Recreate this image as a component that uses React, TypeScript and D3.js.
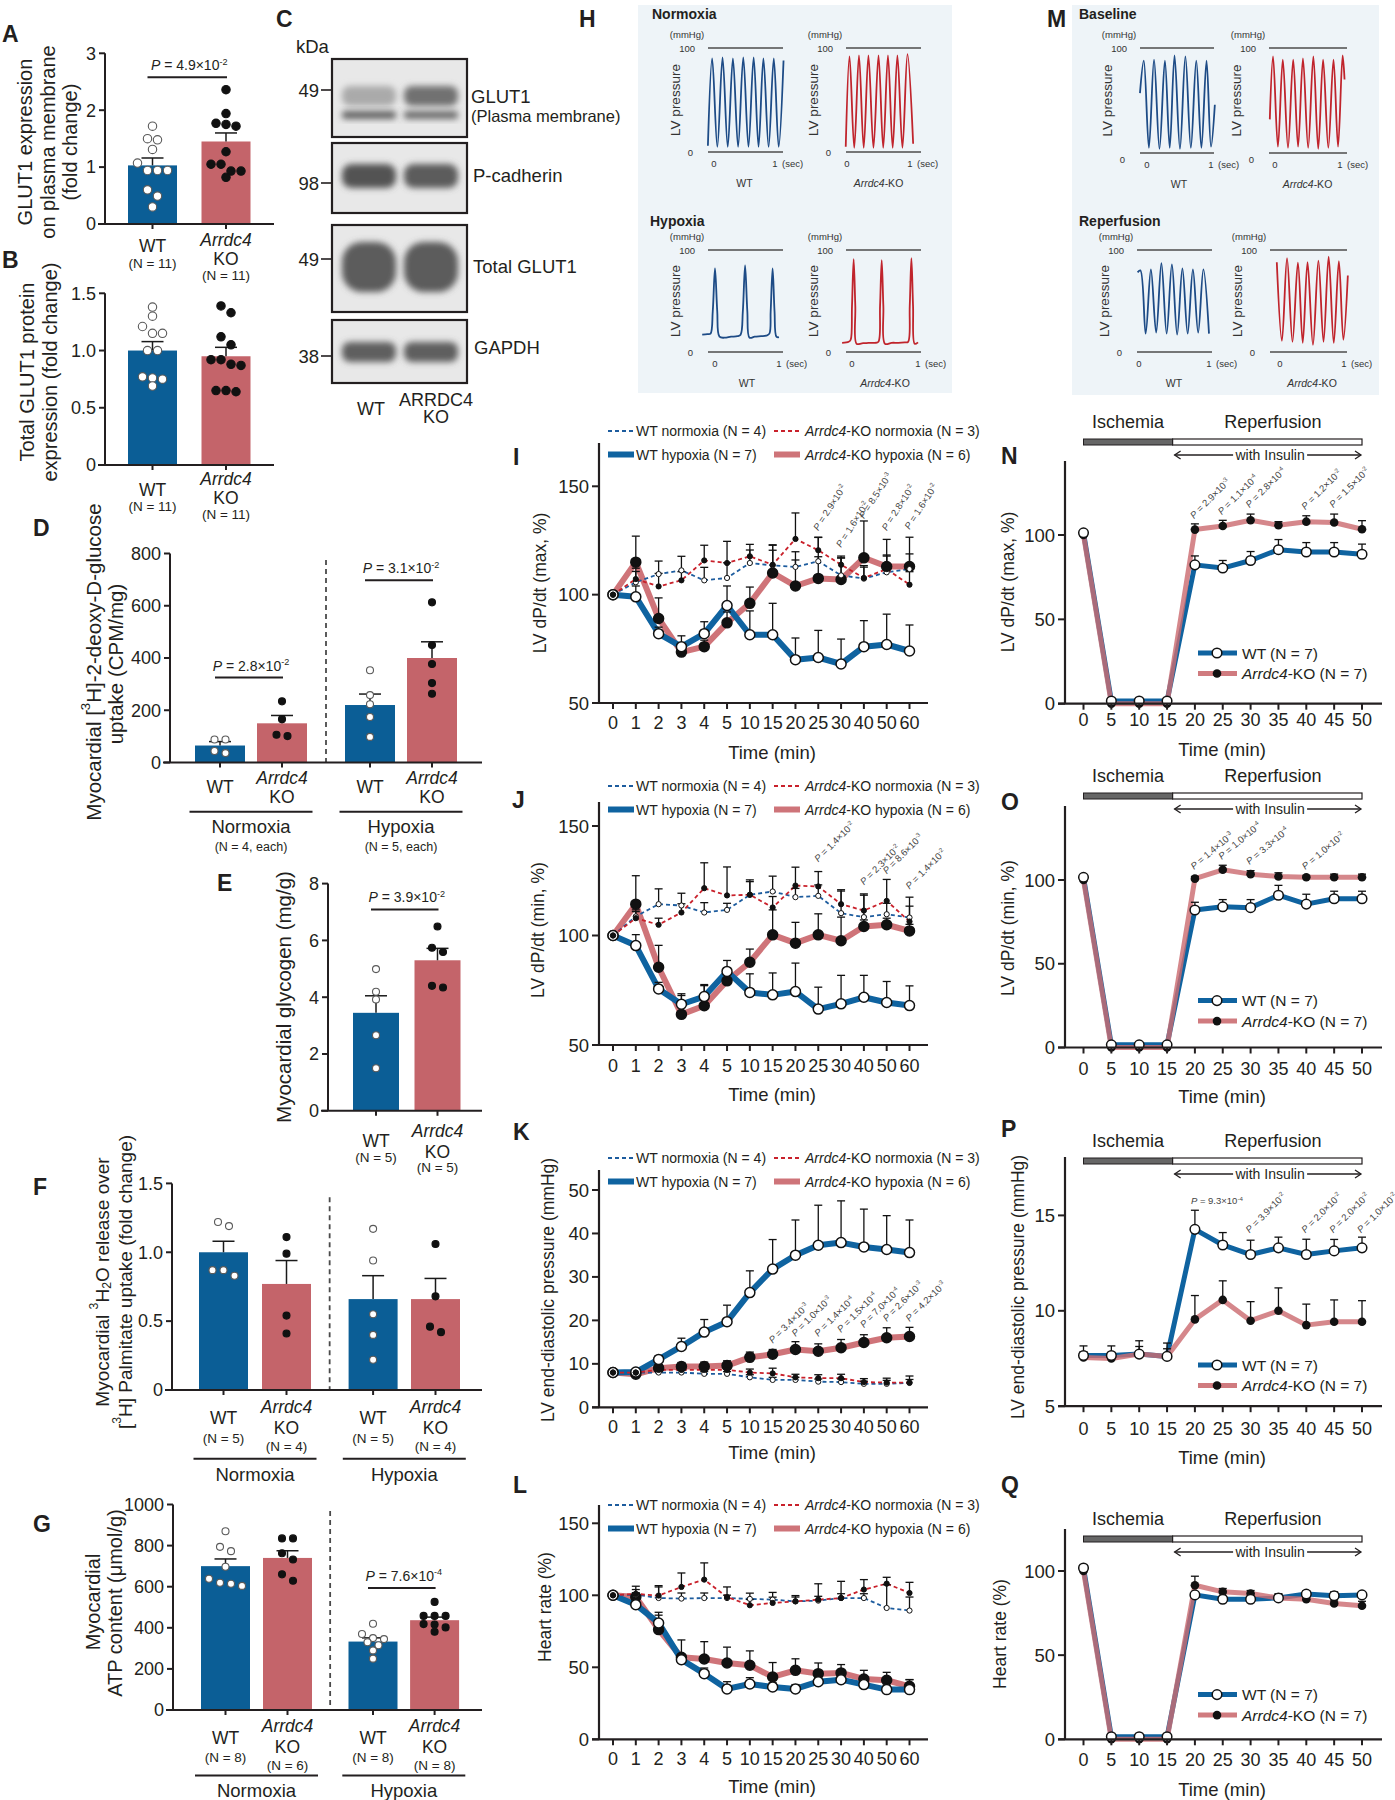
import React from 'react';
import * as d3 from 'd3';

const FONT = "'Liberation Sans', Arial, Helvetica, sans-serif";
const INK = '#231f20';
const BAR_BLUE = '#0b5e96';
const BAR_RED = '#c4646a';
const LINE_BLUE = '#0f63a0';
const LINE_RED = '#cc6d72';
const DASH_BLUE = '#1d5c9e';
const DASH_RED = '#c9212b';
const TRACE_BLUE = '#1d4b86';
const TRACE_RED = '#c0242c';
const PANEL_BG = '#eef4f8';

// ---------------- DATA ----------------
// A / B
const abGroups = ['WT', 'Arrdc4 KO'];
const aMean = [1.03, 1.45];
const aSem = [0.13, 0.15];
const aDotsWT = [1.72, 1.5, 1.48, 1.31, 1.07, 0.94, 0.94, 0.94, 0.6, 0.49, 0.3];
const aDotsKO = [2.36, 1.94, 1.77, 1.75, 1.72, 1.27, 1.05, 1.05, 0.93, 0.93, 0.82];
const bMean = [1.0, 0.95];
const bSem = [0.078, 0.078];
const bDotsWT = [1.38, 1.3, 1.21, 1.15, 1.15, 1.0, 1.0, 0.76, 0.69, 0.75, 0.77];
const bDotsKO = [1.39, 1.33, 1.12, 1.05, 0.92, 0.87, 0.92, 0.88, 0.65, 0.64, 0.65];
// D
const dMean = [65, 150, 220, 400];
const dSem = [15, 30, 42, 62];
const dDots = [[88, 88, 36, 44], [234, 166, 101, 106], [353, 258, 223, 174, 98], [613, 450, 377, 304, 263]];
// E
const eMean = [3.45, 5.3];
const eSem = [0.6, 0.42];
const eDots = [[4.99, 3.92, 4.19, 2.66, 1.5], [6.49, 5.74, 5.59, 4.34, 4.4]];
// F
const fMean = [1.0, 0.77, 0.66, 0.66];
const fSem = [0.08, 0.17, 0.17, 0.15];
const fDots = [[1.22, 1.19, 0.87, 0.83, 0.87], [1.11, 0.99, 0.54, 0.41], [1.17, 0.94, 0.55, 0.4, 0.22], [1.06, 0.68, 0.42, 0.46]];
// G
const gMean = [700, 740, 333, 437];
const gSem = [35, 35, 18, 15];
const gDots = [
  [870, 773, 794, 697, 619, 604, 614, 639],
  [835, 835, 763, 732, 629, 660],
  [420, 370, 350, 345, 330, 315, 290, 250],
  [526, 458, 458, 458, 416, 381, 402, 418],
];

// C (western blot band intensities, WT / KO)
const blotLanes = ['WT', 'ARRDC4 KO'];
const glut1Upper = [0.3, 0.6];
const glut1Lower = [0.68, 0.64];
const pcadBand = [0.76, 0.72];
const totalGlutBand = [0.72, 0.72];
const gapdhBand = [0.7, 0.7];

// H / M pressure traces [time (sec), pressure (mmHg)]
const hNormWT = [[-0.1, 6], [-0.03, 90], [0.055, 5], [0.14, 91], [0.225, 5], [0.31, 90], [0.395, 5], [0.48, 91], [0.565, 5], [0.65, 91], [0.73, 5], [0.81, 90], [0.895, 5], [0.98, 90], [1.06, 5], [1.14, 88]];
const hNormKO = [[-0.02, 5], [0.04, 92], [0.115, 4], [0.19, 93], [0.265, 4], [0.34, 93], [0.42, 4], [0.5, 93], [0.575, 4], [0.65, 93], [0.725, 4], [0.8, 93], [0.88, 4], [0.96, 94], [1.05, 8]];
const hHypoWT = [[-0.2, 17], [-0.12, 17.5], [-0.07, 18], [-0.035, 40], [0, 82], [0.035, 40], [0.07, 15], [0.15, 14], [0.25, 15], [0.35, 15.5], [0.4, 17], [0.435, 40], [0.47, 85], [0.505, 40], [0.54, 14], [0.62, 15], [0.72, 15.5], [0.8, 16], [0.85, 18], [0.87, 40], [0.9, 82], [0.93, 40], [0.96, 15], [1.0, 14.5]];
const hHypoKO = [[-0.15, 9], [-0.05, 10], [-0.02, 12], [0.0, 45], [0.025, 91], [0.05, 45], [0.07, 8], [0.15, 8.5], [0.25, 9], [0.35, 9], [0.4, 10], [0.425, 45], [0.45, 90], [0.475, 45], [0.5, 8], [0.6, 9], [0.7, 9], [0.8, 9.5], [0.85, 10], [0.875, 45], [0.9, 92], [0.925, 45], [0.95, 8], [1.0, 9.5]];
const mBaseWT = [[-0.11, 57], [-0.05, 88], [0.03, 5], [0.11, 89], [0.195, 4], [0.28, 88], [0.355, 5], [0.43, 93], [0.515, 4], [0.6, 92], [0.685, 5], [0.77, 88], [0.85, 5], [0.93, 88], [1.0, 6], [1.06, 46]];
const mBaseKO = [[-0.08, 32], [-0.03, 92], [0.045, 6], [0.12, 89], [0.2, 5], [0.28, 89], [0.355, 6], [0.43, 90], [0.51, 5], [0.59, 92], [0.665, 4], [0.74, 89], [0.82, 5], [0.9, 89], [0.97, 6], [1.04, 93], [1.07, 70]];
const mRepWT = [[-0.02, 78], [0.02, 80], [0.095, 18], [0.17, 81], [0.245, 19], [0.32, 87], [0.395, 18], [0.47, 86], [0.545, 17], [0.62, 82], [0.695, 18], [0.77, 81], [0.845, 19], [0.92, 81], [1.0, 18]];
const mRepKO = [[-0.05, 88], [0.03, 11], [0.11, 92], [0.195, 10], [0.28, 87.5], [0.355, 9], [0.43, 88], [0.515, 7], [0.6, 89.5], [0.68, 10], [0.76, 93.4], [0.84, 9], [0.92, 89], [0.99, 12], [1.06, 75]];

// I - L (hypoxia time course)
const TIMES_I = ['0', '1', '2', '3', '4', '5', '10', '15', '20', '25', '30', '40', '50', '60'];
const iWTn = [100, 105.7, 109.5, 111.2, 106.6, 107.7, 114.6, 113.5, 112.8, 115.4, 108.9, 107.4, 110.3, 111.8];
const iKOn = [100, 107.2, 103.8, 106.6, 115.8, 114.6, 117.7, 113.8, 125.7, 120.5, 113.8, 107.7, 111.8, 104.6];
const iWTh = [100, 99, 82, 76, 82, 95, 81.5, 81.5, 70, 71, 68, 76, 77, 74];
const iKOh = [100, 115, 89, 73.5, 76, 87, 96, 110, 104, 107.5, 107, 117, 113, 113];
const iWTnE = [0, 5, 6, 6.5, 6, 7, 6, 7, 7, 11, 8, 6, 8, 7];
const iKOnE = [0, 5, 6, 4, 7, 10, 5.5, 9, 12, 6, 4, 5, 6, 6];
const iWThE = [0, 5, 3, 5, 5.5, 9, 11, 14.5, 10, 12.5, 11.5, 12, 14, 12];
const iKOhE = [0, 12, 9.5, 3, 3, 5, 7.5, 13, 12, 10, 10, 17, 12.5, 13.5];

const jWTn = [100, 108.7, 114.3, 113.7, 110.5, 111.7, 118.6, 120.1, 117.5, 118.1, 110.2, 108.4, 109.7, 108.2];
const jKOn = [100, 107.9, 104.9, 110.5, 121.6, 118.3, 118.6, 112.8, 122.8, 122.4, 114.3, 111.4, 115.8, 106.4];
const jWTh = [100, 95.4, 75.6, 68.6, 72.1, 83.6, 74, 72.9, 74.4, 66.4, 68.8, 71.8, 69.4, 68];
const jKOh = [100, 114.3, 85.5, 64, 67.9, 79.3, 87.8, 100.3, 96.5, 100.3, 97.6, 104.1, 104.9, 102.1];
const jWTnE = [0, 3, 7, 5.6, 4.5, 3, 6.8, 7, 4, 5, 10.7, 10.6, 5, 9.3];
const jKOnE = [0, 3, 3, 4, 11.6, 13, 6, 5, 8.4, 6.8, 6, 7, 9.8, 7];
const jWThE = [0, 5, 3, 4, 5, 5, 8.5, 10, 13, 10, 13, 10, 9.6, 9];
const jKOhE = [0, 13, 10, 9.4, 9.7, 5.7, 6, 11.4, 9.5, 9.6, 10.8, 3, 3, 3];

const kWTn = [8.0, 8.0, 8.0, 8.0, 7.7, 7.7, 6.9, 6.3, 6.3, 5.9, 5.8, 5.4, 5.4, 5.6];
const kKOn = [8.0, 8.0, 8.6, 8.6, 8.6, 8.6, 8.0, 7.8, 6.9, 6.7, 6.7, 5.8, 5.7, 5.7];
const kWTh = [8.0, 8.1, 11.0, 14.0, 17.3, 19.7, 26.4, 31.8, 35.0, 37.3, 37.9, 36.9, 36.3, 35.6];
const kKOh = [8.0, 7.6, 9.0, 9.4, 9.4, 9.6, 11.5, 12.2, 13.3, 12.9, 13.7, 14.9, 16.0, 16.3];
const kWTnE = [0.3, 0.3, 0.4, 0.5, 0.5, 0.5, 0.6, 0.6, 0.6, 0.6, 0.7, 0.6, 0.8, 0.8];
const kKOnE = [0.3, 0.4, 0.8, 0.9, 1.0, 1.1, 0.8, 1.2, 0.7, 0.8, 0.9, 0.8, 1.0, 1.5];
const kWThE = [0.3, 0.4, 0.9, 1.9, 2.9, 3.8, 5.0, 6.8, 8.1, 9.2, 9.6, 8.7, 7.8, 7.5];
const kKOhE = [0.3, 0.4, 0.8, 0.9, 1.0, 1.1, 1.2, 1.1, 1.8, 1.7, 1.9, 1.8, 2.3, 2.1];

const lWTn = [100, 100.5, 98.1, 97.7, 98.1, 98.1, 97.5, 97, 95.8, 96.3, 98.1, 98.1, 91.2, 89.4];
const lKOn = [100, 101, 99.8, 105.8, 110.9, 98.8, 93.1, 94.7, 95.8, 97, 98.1, 104, 108.1, 101.6];
const lWTh = [100, 93.5, 80.8, 55.3, 45.6, 35, 38.4, 36.3, 35, 40, 41.4, 38, 34.5, 34.5];
const lKOh = [100, 98.8, 76.2, 57, 55.8, 53, 51.4, 43.3, 47.9, 45.6, 46.1, 41.9, 41, 36.8];
const lWTnE = [0, 5.8, 8.6, 3.9, 3.5, 2, 4, 5, 4, 3, 3, 3, 16.2, 9.4];
const lKOnE = [0, 3, 6, 9.7, 11.6, 7, 4, 4, 3, 11, 11.6, 6.9, 4.4, 7.4];
const lWThE = [0, 2, 7.4, 3, 3.9, 5, 4.4, 3, 3, 3, 3, 3, 3, 7];
const lKOhE = [0, 3, 10, 12, 12, 11, 10, 10, 8, 7.4, 5.8, 6, 5.5, 4.6];

// N - Q (ischemia / reperfusion)
const TIMES_N = [0, 5, 10, 15, 20, 25, 30, 35, 40, 45, 50];
const nWT = [101.3, 1.6, 1.6, 1.6, 82.3, 80.4, 84.9, 91.3, 89.9, 89.9, 88.6];
const nKO = [100, 0, 0, 0, 103.2, 105.3, 108.7, 105.8, 107.9, 107.4, 103.4];
const nWTE = [0, 0, 0, 0, 5.3, 4.5, 5.3, 6, 5.6, 5.6, 6];
const nKOE = [0, 0, 0, 0, 3.4, 3.4, 3.7, 2.1, 3.5, 5, 5.1];
const oWT = [101.6, 1.6, 1.6, 1.6, 82.1, 84, 83.5, 90.9, 85.6, 88.8, 88.8];
const oKO = [100, 0, 0, 0, 100.8, 106.1, 103.5, 102.1, 101.6, 101.6, 101.6];
const oWTE = [0, 0, 0, 0, 4.6, 4.3, 4.8, 5.9, 5.9, 4.5, 4.5];
const oKOE = [0, 0, 0, 0, 1.3, 2.7, 2.1, 2.2, 0.8, 1.9, 1.9];
const pWT = [7.66, 7.66, 7.73, 7.61, 14.27, 13.45, 12.95, 13.3, 12.95, 13.14, 13.3];
const pKO = [7.55, 7.5, 7.73, 7.61, 9.55, 10.57, 9.48, 10.0, 9.25, 9.43, 9.43];
const pWTE = [0.5, 0.5, 0.7, 0.7, 1.0, 0.65, 0.75, 0.56, 0.8, 0.6, 0.56];
const pKOE = [0.3, 0.3, 0.4, 0.4, 1.25, 1.0, 1.0, 1.2, 1.1, 1.14, 1.1];
const qWT = [101.8, 1.5, 1.5, 1.5, 85.8, 83.2, 83.2, 84, 86.3, 85.3, 85.8];
const qKO = [100, 0, 0, 0, 91.5, 87.6, 86.6, 84, 83.2, 80.7, 79.4];
const qWTE = [0, 0, 0, 0, 1.5, 1.5, 1.5, 2.5, 2, 2.3, 1.5];
const qKOE = [0, 0, 0, 0, 5.4, 2, 1.8, 2, 1.5, 1.5, 2.6];

// P-value annotations
const iAnn = [['25', 129.3, '2.9', '2'], ['30', 121.5, '1.6', '2'], ['40', 134.8, '8.5', '3'], ['50', 129.3, '2.8', '2'], ['60', 129.8, '1.6', '2']];
const jAnn = [['25', 133.3, '1.4', '2'], ['40', 122.8, '2.3', '2'], ['50', 127.8, '8.6', '3'], ['60', 120.9, '1.4', '2']];
const kAnn = [['15', 14.6, '3.4', '3'], ['20', 16.2, '1.0', '3'], ['25', 16.2, '1.4', '4'], ['30', 17.1, '1.5', '4'], ['40', 18.2, '7.0', '4'], ['50', 19.6, '2.6', '3'], ['60', 19.6, '4.2', '3']];
const nAnn = [[20, 109.4, '2.9', '3'], [25, 111.7, '1.1', '4'], [30, 115.9, '2.8', '4'], [40, 114.7, '1.2', '2'], [45, 115.9, '1.5', '2']];
const oAnn = [[20, 106, '1.4', '3'], [25, 112, '1.0', '4'], [30, 109, '3.3', '4'], [40, 106, '1.0', '2']];
const pAnn = [[30, 14.05, '3.9', '2'], [40, 14.05, '2.0', '2'], [45, 14.05, '2.0', '2'], [50, 14.05, '1.0', '2']];

// ---------------- HELPERS ----------------
type Part = string | { t: string; sup?: boolean; sub?: boolean; it?: boolean };

function Rich({ parts, fs }: { parts: Part[]; fs: number }) {
  let shift = 0;
  return (
    <>
      {parts.map((p, i) => {
        const o: any = typeof p === 'string' ? { t: p } : p;
        const target = o.sup ? -0.4 * fs : o.sub ? 0.25 * fs : 0;
        const dy = target - shift;
        shift = target;
        return (
          <tspan key={i} dy={dy !== 0 ? dy : undefined} fontSize={o.sup || o.sub ? fs * 0.65 : undefined} fontStyle={o.it ? 'italic' : undefined}>
            {o.t}
          </tspan>
        );
      })}
    </>
  );
}
const pParts = (coef: string, exp: string): Part[] => [{ t: 'P', it: true }, ` = ${coef}×10`, { t: `-${exp}`, sup: true }];

function swarm(vals: number[], y: any, r: number, cx: number, gap: number) {
  const pts = vals.map((v) => ({ v, py: y(v) })).sort((a, b) => a.py - b.py);
  const rows: any[][] = [];
  for (const p of pts) {
    const last = rows[rows.length - 1];
    if (last && p.py - last[0].py < r * 2.1) last.push(p);
    else rows.push([p]);
  }
  const out: { x: number; y: number }[] = [];
  rows.forEach((row) => row.forEach((p, j) => out.push({ x: cx + (j - (row.length - 1) / 2) * (2 * r + gap), y: p.py })));
  return out;
}

function Letter({ x, y, t }: any) {
  return (
    <text x={x} y={y} fontSize={23} fontWeight="bold" fill={INK}>
      {t}
    </text>
  );
}

function VText({ x, y, fs, children, anchor = 'middle' }: any) {
  return (
    <text transform={`translate(${x},${y}) rotate(-90)`} textAnchor={anchor} dominantBaseline="central" fontSize={fs} fill={INK}>
      {children}
    </text>
  );
}

function T({ x, y, fs = 17.5, children, anchor = 'middle', italic = false, fill = INK, weight }: any) {
  return (
    <text x={x} y={y} fontSize={fs} textAnchor={anchor} fontStyle={italic ? 'italic' : undefined} fill={fill} fontWeight={weight}>
      {children}
    </text>
  );
}

function BarPanel(props: any) {
  const { y, centers, barW, means, sems, dots, fills, open, dotR, dotGap, axisL, axisR, ticks, fmt, divider, pBars, tickFs = 18 } = props;
  const y0 = y(0);
  const yTopTick = y(ticks[ticks.length - 1]);
  return (
    <g>
      {divider && <line x1={divider.x} x2={divider.x} y1={y(divider.top)} y2={y0} stroke="#4a4a4a" strokeWidth={1.8} strokeDasharray="5,4" />}
      {means.map((m: number, i: number) => (
        <rect key={'b' + i} x={centers[i] - barW / 2} y={y(m)} width={barW} height={y0 - y(m)} fill={fills[i]} />
      ))}
      {means.map((m: number, i: number) => {
        const t = y(m + sems[i]);
        return (
          <g key={'e' + i} stroke="#1a1a1a" strokeWidth={1.5}>
            <line x1={centers[i]} x2={centers[i]} y1={y(m)} y2={t} />
            <line x1={centers[i] - 11} x2={centers[i] + 11} y1={t} y2={t} />
          </g>
        );
      })}
      {dots.map((vals: number[], i: number) =>
        swarm(vals, y, dotR, centers[i], dotGap).map((p, j) => (
          <circle key={`d${i}-${j}`} cx={p.x} cy={p.y} r={dotR} fill={open[i] ? '#fff' : '#111'} stroke={open[i] ? '#5a5a5a' : '#111'} strokeWidth={1.1} />
        ))
      )}
      <line x1={axisL} x2={axisL} y1={y0} y2={yTopTick} stroke={INK} strokeWidth={2} />
      <line x1={axisL - 7} x2={axisR} y1={y0} y2={y0} stroke={INK} strokeWidth={2} />
      {ticks.map((t: number) => (
        <g key={'t' + t}>
          <line x1={axisL - 6} x2={axisL} y1={y(t)} y2={y(t)} stroke={INK} strokeWidth={2} />
          <text x={axisL - 9} y={y(t)} dy="0.35em" textAnchor="end" fontSize={tickFs} fill={INK}>
            {fmt(t)}
          </text>
        </g>
      ))}
      {centers.map((c: number, i: number) => (
        <line key={'xt' + i} x1={c} x2={c} y1={y0} y2={y0 + 5} stroke={INK} strokeWidth={2} />
      ))}
      {pBars &&
        pBars.map((pb: any, k: number) => {
          const ly = y(pb.v);
          const xa = centers[pb.a] - 5;
          const xb = centers[pb.b] + 1;
          return (
            <g key={'p' + k}>
              <line x1={xa} x2={xb} y1={ly} y2={ly} stroke={INK} strokeWidth={2} />
              <text x={(xa + xb) / 2 + 2} y={ly - 7} fontSize={14} textAnchor="middle" fill={INK}>
                <Rich parts={pParts(pb.coef, pb.exp)} fs={14} />
              </text>
            </g>
          );
        })}
    </g>
  );
}

function Blot() {
  const lane = d3.scalePoint<string>().domain(blotLanes).range([369, 431]);
  const boxes = [
    [59, 137],
    [143, 213],
    [225, 312],
    [320, 383],
  ];
  const gray = d3.interpolateRgb('#e2e2e2', '#262626');
  const bands: any[] = [];
  blotLanes.forEach((ln, i) => {
    const cx = lane(ln)!;
    bands.push({ box: 0, cx, cy: 96, h: 20, I: glut1Upper[i] });
    bands.push({ box: 0, cx, cy: 115, h: 8, I: glut1Lower[i] });
    bands.push({ box: 1, cx, cy: 176, h: 24, I: pcadBand[i] });
    bands.push({ box: 2, cx, cy: 267, h: 50, I: totalGlutBand[i] });
    bands.push({ box: 3, cx, cy: 352, h: 20, I: gapdhBand[i] });
  });
  const markers = ['49', '98', '49', '38'];
  const markerY = [90, 183, 259, 356];
  return (
    <g>
      <defs>
        <filter id="blur" x="-30%" y="-60%" width="160%" height="220%">
          <feGaussianBlur stdDeviation="3.2" />
        </filter>
        {boxes.map((b, i) => (
          <clipPath id={'clip' + i} key={i}>
            <rect x={332} y={b[0]} width={135} height={b[1] - b[0]} />
          </clipPath>
        ))}
      </defs>
      {boxes.map((b, i) => (
        <g key={'box' + i}>
          <rect x={332} y={b[0]} width={135} height={b[1] - b[0]} fill="#e8e8e8" />
          <g clipPath={`url(#clip${i})`}>
            {bands
              .filter((bd) => bd.box === i)
              .map((bd, k) => (
                <rect key={k} x={bd.cx - 27} y={bd.cy - bd.h / 2} width={54} height={bd.h} rx={bd.h / 2.5} fill={gray(bd.I)} filter="url(#blur)" />
              ))}
          </g>
          <rect x={332} y={b[0]} width={135} height={b[1] - b[0]} fill="none" stroke={INK} strokeWidth={2.2} />
          <line x1={321} x2={332} y1={markerY[i]} y2={markerY[i]} stroke={INK} strokeWidth={1.6} />
          <T x={319} y={markerY[i] + 6.5} anchor="end" fs={18.5}>
            {markers[i]}
          </T>
        </g>
      ))}
      <T x={296} y={53} anchor="start" fs={18.5}>kDa</T>
      <T x={471} y={103} anchor="start" fs={18.5}>GLUT1</T>
      <T x={471} y={122} anchor="start" fs={16.5}>(Plasma membrane)</T>
      <T x={473} y={182} anchor="start" fs={18.5}>P-cadherin</T>
      <T x={473} y={273} anchor="start" fs={18.5}>Total GLUT1</T>
      <T x={474} y={354} anchor="start" fs={18.5}>GAPDH</T>
      <T x={lane('WT')! + 2} y={415} fs={18}>WT</T>
      <T x={lane('ARRDC4 KO')! + 5} y={406} fs={18}>ARRDC4</T>
      <T x={lane('ARRDC4 KO')! + 5} y={423} fs={18}>KO</T>
    </g>
  );
}

function MiniTrace({ lineL, lineR, yTop, yBot, t0x, t1x, pts, color, ko, zeroDy = 0 }: any) {
  const x = d3.scaleLinear().domain([0, 1]).range([t0x, t1x]);
  const y = d3.scaleLinear().domain([0, 100]).range([yBot, yTop]);
  const path = d3
    .line<number[]>()
    .x((d) => x(d[0]))
    .y((d) => y(d[1]))
    .curve(d3.curveCatmullRom.alpha(0.5))(pts);
  const tc = '#333';
  return (
    <g>
      <line x1={lineL} x2={lineR} y1={yTop} y2={yTop} stroke="#4d4d4d" strokeWidth={1.6} />
      <line x1={lineL} x2={lineR} y1={yBot} y2={yBot} stroke="#4d4d4d" strokeWidth={1.6} />
      <path d={path || ''} fill="none" stroke={color} strokeWidth={1.8} strokeLinejoin="round" />
      <T x={lineL - 21} y={yTop - 10} fs={9.5} fill={tc}>(mmHg)</T>
      <T x={lineL - 13} y={yTop + 3.5} fs={9.5} anchor="end" fill={tc}>100</T>
      <T x={lineL - 15} y={yBot + 3.5 + zeroDy} fs={9.5} anchor="end" fill={tc}>0</T>
      <T x={x(0)} y={yBot + 14.5} fs={9.5} fill={tc}>0</T>
      <T x={x(1)} y={yBot + 14.5} fs={9.5} fill={tc}>1</T>
      <T x={x(1) + 7} y={yBot + 14.5} fs={9.5} anchor="start" fill={tc}>(sec)</T>
      <text transform={`translate(${lineL - 33},${(yTop + yBot) / 2}) rotate(-90)`} textAnchor="middle" dominantBaseline="central" fontSize={13.5} fill={tc}>
        LV pressure
      </text>
      <text x={(x(0) + x(1)) / 2} y={yBot + 34.5} fontSize={10.5} textAnchor="middle" fill={tc}>
        {ko ? (
          <>
            <tspan fontStyle="italic">Arrdc4</tspan>-KO
          </>
        ) : (
          'WT'
        )}
      </text>
    </g>
  );
}

const LSTYLE: any = {
  WTn: { stroke: DASH_BLUE, w: 1.8, dash: '4,3', r: 2.6, open: true, op: 1 },
  KOn: { stroke: DASH_RED, w: 1.8, dash: '4,3', r: 2.6, open: false, op: 1 },
  WTh: { stroke: LINE_BLUE, w: 6, dash: undefined, r: 5, open: true, op: 1 },
  KOh: { stroke: LINE_RED, w: 6, dash: undefined, r: 5, open: false, op: 0.95 },
};

function LegendLine({ x, y, k }: any) {
  const s = LSTYLE[k];
  return <line x1={x} x2={x + 26} y1={y} y2={y} stroke={s.stroke} strokeWidth={s.w} strokeDasharray={s.dash} opacity={s.op} />;
}

function LinePanel(props: any) {
  const { y, ticks, axisTop, series, annots, annAngle, legendY, tickY, titleY, yLabel, yLabelX, yLabelY } = props;
  const x = d3.scalePoint<string>().domain(TIMES_I).range([613, 909.5]);
  const y0 = y(ticks[0]);
  const line = d3
    .line<number>()
    .x((_, i) => x(TIMES_I[i])!)
    .y((d) => y(d));
  const order = ['KOh', 'WTh', 'WTn', 'KOn'];
  return (
    <g>
      {order.map((k) => {
        const s = LSTYLE[k];
        return <path key={'l' + k} d={line(series[k].v) || ''} fill="none" stroke={s.stroke} strokeWidth={s.w} strokeDasharray={s.dash} opacity={s.op} strokeLinejoin="round" />;
      })}
      {order.map((k) =>
        series[k].v.map((v: number, i: number) => {
          const e = series[k].e[i];
          if (!e) return null;
          const cx = x(TIMES_I[i])!;
          const t = y(v + e);
          return (
            <g key={`e${k}${i}`} stroke="#111" strokeWidth={1.3}>
              <line x1={cx} x2={cx} y1={y(v)} y2={t} />
              <line x1={cx - 4} x2={cx + 4} y1={t} y2={t} />
            </g>
          );
        })
      )}
      {order.map((k) =>
        series[k].v.map((v: number, i: number) => {
          const s = LSTYLE[k];
          return <circle key={`m${k}${i}`} cx={x(TIMES_I[i])} cy={y(v)} r={s.r} fill={s.open ? '#fff' : '#111'} stroke="#111" strokeWidth={s.r > 3 ? 1.5 : 1} />;
        })
      )}
      <line x1={599} x2={599} y1={y0} y2={axisTop} stroke={INK} strokeWidth={2.2} />
      <line x1={592} x2={928} y1={y0} y2={y0} stroke={INK} strokeWidth={2.2} />
      {ticks.map((t: number) => (
        <g key={'yt' + t}>
          <line x1={592} x2={599} y1={y(t)} y2={y(t)} stroke={INK} strokeWidth={2} />
          <T x={589} y={y(t) + 6.5} anchor="end" fs={18.5}>{t}</T>
        </g>
      ))}
      {TIMES_I.map((t) => (
        <g key={'xt' + t}>
          <line x1={x(t)} x2={x(t)} y1={y0} y2={y0 + 6} stroke={INK} strokeWidth={2} />
          <T x={x(t)} y={tickY} fs={18}>{t}</T>
        </g>
      ))}
      <T x={772} y={titleY} fs={18.5}>Time (min)</T>
      <VText x={yLabelX} y={yLabelY} fs={17.5}>{yLabel}</VText>
      {annots.map((a: any, i: number) => (
        <text key={'an' + i} transform={`translate(${x(a[0])},${y(a[1])}) rotate(${annAngle})`} fontSize={9.5} fill="#444">
          <Rich parts={pParts(a[2], a[3])} fs={9.5} />
        </text>
      ))}
      <LegendLine x={608} y={legendY} k="WTn" />
      <T x={636} y={legendY + 5} anchor="start" fs={14}>WT normoxia (N = 4)</T>
      <LegendLine x={774} y={legendY} k="KOn" />
      <text x={805} y={legendY + 5} fontSize={14} fill={INK}>
        <tspan fontStyle="italic">Arrdc4</tspan>-KO normoxia (N = 3)
      </text>
      <LegendLine x={608} y={legendY + 23.5} k="WTh" />
      <T x={636} y={legendY + 28.5} anchor="start" fs={14}>WT hypoxia (N = 7)</T>
      <LegendLine x={774} y={legendY + 23.5} k="KOh" />
      <text x={805} y={legendY + 28.5} fontSize={14} fill={INK}>
        <tspan fontStyle="italic">Arrdc4</tspan>-KO hypoxia (N = 6)
      </text>
    </g>
  );
}

function TimePanel(props: any) {
  const { y, ticks, axisTop, wt, ko, wtE, koE, annots, annAngle, hAnnot, headY, legendY, tickY, titleY, yLabel, yLabelX, yLabelY } = props;
  const x = d3.scaleLinear().domain([0, 50]).range([1083.5, 1362]);
  const y0 = y(ticks[0]);
  const line = d3
    .line<number>()
    .x((_, i) => x(TIMES_N[i]))
    .y((d) => y(d));
  const barY = headY + 11;
  const arrY = headY + 27;
  const xs = x(16);
  const mid = x(33.5);
  return (
    <g>
      <T x={(x(0) + xs) / 2} y={headY} fs={18}>Ischemia</T>
      <T x={x(34)} y={headY} fs={18}>Reperfusion</T>
      <rect x={x(0)} y={barY} width={xs - x(0)} height={6} fill="#666" stroke={INK} strokeWidth={1} />
      <rect x={xs} y={barY} width={x(50) - xs} height={6} fill="#fff" stroke={INK} strokeWidth={1.2} />
      <g stroke={INK} strokeWidth={1.3} fill="none">
        <line x1={xs + 2} x2={mid - 37} y1={arrY} y2={arrY} />
        <line x1={mid + 37} x2={x(50) - 1} y1={arrY} y2={arrY} />
        <polyline points={`${xs + 8},${arrY - 4} ${xs + 2},${arrY} ${xs + 8},${arrY + 4}`} />
        <polyline points={`${x(50) - 7},${arrY - 4} ${x(50) - 1},${arrY} ${x(50) - 7},${arrY + 4}`} />
      </g>
      <T x={mid} y={arrY + 5} fs={14}>with Insulin</T>
      <path d={line(wt) || ''} fill="none" stroke={LINE_BLUE} strokeWidth={5} strokeLinejoin="round" />
      <path d={line(ko) || ''} fill="none" stroke={LINE_RED} strokeWidth={5} strokeLinejoin="round" opacity={0.82} />
      {[
        [wt, wtE],
        [ko, koE],
      ].map(([vals, errs]: any, s: number) =>
        vals.map((v: number, i: number) => {
          if (!errs[i]) return null;
          const cx = x(TIMES_N[i]);
          const t = y(v + errs[i]);
          return (
            <g key={`e${s}${i}`} stroke="#111" strokeWidth={1.3}>
              <line x1={cx} x2={cx} y1={y(v)} y2={t} />
              <line x1={cx - 4} x2={cx + 4} y1={t} y2={t} />
            </g>
          );
        })
      )}
      {ko.map((v: number, i: number) => (
        <circle key={'k' + i} cx={x(TIMES_N[i])} cy={y(v)} r={4.3} fill="#111" />
      ))}
      {wt.map((v: number, i: number) => (
        <circle key={'w' + i} cx={x(TIMES_N[i])} cy={y(v)} r={4.8} fill="#fff" stroke="#111" strokeWidth={1.5} />
      ))}
      <line x1={1065} x2={1065} y1={y0} y2={axisTop} stroke={INK} strokeWidth={2.2} />
      <line x1={1058} x2={1382} y1={y0} y2={y0} stroke={INK} strokeWidth={2.2} />
      {ticks.map((t: number) => (
        <g key={'yt' + t}>
          <line x1={1058} x2={1065} y1={y(t)} y2={y(t)} stroke={INK} strokeWidth={2} />
          <T x={1055} y={y(t) + 6.5} anchor="end" fs={18.5}>{t}</T>
        </g>
      ))}
      {TIMES_N.map((t) => (
        <g key={'xt' + t}>
          <line x1={x(t)} x2={x(t)} y1={y0} y2={y0 + 6} stroke={INK} strokeWidth={2} />
          <T x={x(t)} y={tickY} fs={18}>{t}</T>
        </g>
      ))}
      <T x={1222} y={titleY} fs={18.5}>Time (min)</T>
      <VText x={yLabelX} y={yLabelY} fs={17.5}>{yLabel}</VText>
      {annots.map((a: any, i: number) => (
        <text key={'an' + i} transform={`translate(${x(a[0]) - 1},${y(a[1])}) rotate(${annAngle})`} fontSize={9.5} fill="#444">
          <Rich parts={pParts(a[2], a[3])} fs={9.5} />
        </text>
      ))}
      {hAnnot && (
        <text x={x(hAnnot[0]) + 22} y={y(hAnnot[1]) + 3} fontSize={9.5} fill="#444" textAnchor="middle">
          <Rich parts={pParts(hAnnot[2], hAnnot[3])} fs={9.5} />
        </text>
      )}
      <line x1={1198} x2={1237} y1={legendY} y2={legendY} stroke={LINE_BLUE} strokeWidth={5} />
      <circle cx={1217} cy={legendY} r={4.8} fill="#fff" stroke="#111" strokeWidth={1.5} />
      <T x={1242} y={legendY + 5.5} anchor="start" fs={15.5}>WT (N = 7)</T>
      <line x1={1198} x2={1237} y1={legendY + 20.5} y2={legendY + 20.5} stroke={LINE_RED} strokeWidth={5} opacity={0.9} />
      <circle cx={1217} cy={legendY + 20.5} r={4.3} fill="#111" />
      <text x={1242} y={legendY + 26} fontSize={15.5} fill={INK}>
        <tspan fontStyle="italic">Arrdc4</tspan>-KO (N = 7)
      </text>
    </g>
  );
}

function KOLabel({ x, y, n, fs = 17.5 }: any) {
  return (
    <g>
      <T x={x} y={y} italic fs={fs}>Arrdc4</T>
      <T x={x} y={y + 19} fs={fs}>KO</T>
      {n && <T x={x} y={y + 36} fs={13.5}>{n}</T>}
    </g>
  );
}

export default function App() {
  const fmtInt = d3.format('d');
  const fmt1 = (v: number) => (v === 0 ? '0' : d3.format('.1f')(v));

  // A, B
  const xAB = d3.scalePoint<string>().domain(abGroups).range([152.5, 226]);
  const cAB = abGroups.map((g) => xAB(g)!);
  const yA = d3.scaleLinear().domain([0, 3]).range([224, 53.3]);
  const yB = d3.scaleLinear().domain([0, 1.5]).range([465, 293.3]);

  // D
  const gD = d3.scalePoint<string>().domain(['Normoxia', 'Hypoxia']).range([251, 401]);
  const cD = [gD('Normoxia')! - 31, gD('Normoxia')! + 31, gD('Hypoxia')! - 31, gD('Hypoxia')! + 31];
  const yD = d3.scaleLinear().domain([0, 800]).range([762.5, 553.5]);
  // E
  const xE = d3.scalePoint<string>().domain(abGroups).range([376, 437.5]);
  const cE = abGroups.map((g) => xE(g)!);
  const yE = d3.scaleLinear().domain([0, 8]).range([1110.8, 883.6]);
  // F
  const gF = d3.scalePoint<string>().domain(['Normoxia', 'Hypoxia']).range([255, 404.3]);
  const cF = [gF('Normoxia')! - 31.5, gF('Normoxia')! + 31.5, gF('Hypoxia')! - 31.2, gF('Hypoxia')! + 31.2];
  const yF = d3.scaleLinear().domain([0, 1.5]).range([1390, 1183.4]);
  // G
  const gG = d3.scalePoint<string>().domain(['Normoxia', 'Hypoxia']).range([256.5, 403.8]);
  const cG = [gG('Normoxia')! - 31, gG('Normoxia')! + 31, gG('Hypoxia')! - 30.8, gG('Hypoxia')! + 30.8];
  const yG = d3.scaleLinear().domain([0, 1000]).range([1710, 1504.5]);

  const groupUnder = (g: any, name: string, yLine: number, yText: number, sub?: string) => (
    <g key={name + yLine}>
      <line x1={g(name) - 61.5} x2={g(name) + 61.5} y1={yLine} y2={yLine} stroke={INK} strokeWidth={2} />
      <T x={g(name)} y={yText} fs={18.5}>{name}</T>
      {sub && <T x={g(name)} y={yText + 18} fs={12.5}>{sub}</T>}
    </g>
  );

  return (
    <svg width={1395} height={1800} viewBox="0 0 1395 1800" style={{ position: 'absolute', left: 0, top: 0 }} fontFamily={FONT}>
      <rect width={1395} height={1800} fill="#fff" />

      {/* ---------- A ---------- */}
      <Letter x={2} y={42} t="A" />
      <BarPanel y={yA} centers={cAB} barW={49} means={aMean} sems={aSem} dots={[aDotsWT, aDotsKO]} fills={[BAR_BLUE, BAR_RED]} open={[true, false]} dotR={4.2} dotGap={1.6} axisL={105} axisR={274} ticks={[0, 1, 2, 3]} fmt={fmtInt} pBars={[{ a: 0, b: 1, v: 2.58, coef: '4.9', exp: '2' }]} />
      <VText x={25} y={142} fs={20}>GLUT1 expression</VText>
      <VText x={48} y={142} fs={20}>on plasma membrane</VText>
      <VText x={70} y={142} fs={20}>(fold change)</VText>
      <T x={cAB[0]} y={252}>WT</T>
      <T x={cAB[0]} y={268} fs={13.5}>(N = 11)</T>
      <KOLabel x={cAB[1]} y={246} n="" />
      <T x={cAB[1]} y={280} fs={13.5}>(N = 11)</T>

      {/* ---------- B ---------- */}
      <Letter x={2} y={268} t="B" />
      <BarPanel y={yB} centers={cAB} barW={49} means={bMean} sems={bSem} dots={[bDotsWT, bDotsKO]} fills={[BAR_BLUE, BAR_RED]} open={[true, false]} dotR={4.2} dotGap={1.6} axisL={105} axisR={274} ticks={[0, 0.5, 1.0, 1.5]} fmt={fmt1} />
      <VText x={27} y={372} fs={20}>Total GLUT1 protein</VText>
      <VText x={50} y={372} fs={20}>expression (fold change)</VText>
      <T x={cAB[0]} y={496}>WT</T>
      <T x={cAB[0]} y={511} fs={13.5}>(N = 11)</T>
      <KOLabel x={cAB[1]} y={485} n="" />
      <T x={cAB[1]} y={519} fs={13.5}>(N = 11)</T>

      {/* ---------- C ---------- */}
      <Letter x={276} y={27} t="C" />
      <Blot />

      {/* ---------- H ---------- */}
      <Letter x={579} y={27} t="H" />
      <rect x={638} y={5} width={314} height={388} fill={PANEL_BG} />
      <T x={652} y={19} anchor="start" fs={14} weight="bold">Normoxia</T>
      <T x={650} y={226} anchor="start" fs={14} weight="bold">Hypoxia</T>
      <MiniTrace lineL={708} lineR={783} yTop={48} yBot={152} t0x={714} t1x={775} pts={hNormWT} color={TRACE_BLUE} />
      <MiniTrace lineL={846} lineR={921} yTop={48} yBot={152} t0x={847} t1x={910} pts={hNormKO} color={TRACE_RED} ko />
      <MiniTrace lineL={708} lineR={783} yTop={250} yBot={352} t0x={715} t1x={779} pts={hHypoWT} color={TRACE_BLUE} />
      <MiniTrace lineL={846} lineR={921} yTop={250} yBot={352} t0x={852} t1x={918} pts={hHypoKO} color={TRACE_RED} ko />

      {/* ---------- M ---------- */}
      <Letter x={1047} y={27} t="M" />
      <rect x={1072} y={5} width={307} height={390} fill={PANEL_BG} />
      <T x={1079} y={19} anchor="start" fs={14} weight="bold">Baseline</T>
      <T x={1079} y={226} anchor="start" fs={14} weight="bold">Reperfusion</T>
      <MiniTrace lineL={1140} lineR={1214} yTop={48} yBot={153} t0x={1147} t1x={1211} pts={mBaseWT} color={TRACE_BLUE} zeroDy={6} />
      <MiniTrace lineL={1269} lineR={1347} yTop={48} yBot={153} t0x={1275} t1x={1340} pts={mBaseKO} color={TRACE_RED} ko zeroDy={6} />
      <MiniTrace lineL={1137} lineR={1212} yTop={250} yBot={352} t0x={1139} t1x={1209} pts={mRepWT} color={TRACE_BLUE} />
      <MiniTrace lineL={1270} lineR={1347} yTop={250} yBot={352} t0x={1280} t1x={1344} pts={mRepKO} color={TRACE_RED} ko />

      {/* ---------- D ---------- */}
      <Letter x={33} y={536} t="D" />
      <BarPanel y={yD} centers={cD} barW={50} means={dMean} sems={dSem} dots={dDots} fills={[BAR_BLUE, BAR_RED, BAR_BLUE, BAR_RED]} open={[true, false, true, false]} dotR={3.5} dotGap={4} axisL={170} axisR={482} ticks={[0, 200, 400, 600, 800]} fmt={fmtInt} divider={{ x: (gD('Normoxia')! + gD('Hypoxia')!) / 2, top: 775 }} pBars={[{ a: 0, b: 1, v: 325, coef: '2.8', exp: '2' }, { a: 2, b: 3, v: 698, coef: '3.1', exp: '2' }]} />
      <VText x={93} y={662} fs={20.5}>
        <Rich parts={['Myocardial [', { t: '3', sup: true }, 'H]-2-deoxy-D-glucose']} fs={20.5} />
      </VText>
      <VText x={115} y={664} fs={20.5}>uptake (CPM/mg)</VText>
      {[0, 2].map((i) => (
        <g key={'dl' + i}>
          <T x={cD[i]} y={793}>WT</T>
          <KOLabel x={cD[i + 1]} y={784} />
        </g>
      ))}
      {groupUnder(gD, 'Normoxia', 811.8, 833, '(N = 4, each)')}
      {groupUnder(gD, 'Hypoxia', 811.8, 833, '(N = 5, each)')}

      {/* ---------- E ---------- */}
      <Letter x={217} y={891} t="E" />
      <BarPanel y={yE} centers={cE} barW={46} means={eMean} sems={eSem} dots={eDots} fills={[BAR_BLUE, BAR_RED]} open={[true, false]} dotR={3.5} dotGap={4} axisL={328} axisR={482} ticks={[0, 2, 4, 6, 8]} fmt={fmtInt} pBars={[{ a: 0, b: 1, v: 7.09, coef: '3.9', exp: '2' }]} />
      <VText x={283} y={997} fs={20.5}>Myocardial glycogen (mg/g)</VText>
      <T x={cE[0]} y={1147}>WT</T>
      <T x={cE[0]} y={1162} fs={13.5}>(N = 5)</T>
      <T x={cE[1]} y={1137} italic>Arrdc4</T>
      <T x={cE[1]} y={1158}>KO</T>
      <T x={cE[1]} y={1172} fs={13.5}>(N = 5)</T>

      {/* ---------- F ---------- */}
      <Letter x={33} y={1195} t="F" />
      <BarPanel y={yF} centers={cF} barW={49} means={fMean} sems={fSem} dots={fDots} fills={[BAR_BLUE, BAR_RED, BAR_BLUE, BAR_RED]} open={[true, false, true, false]} dotR={3.5} dotGap={4} axisL={172} axisR={482} ticks={[0, 0.5, 1.0, 1.5]} fmt={fmt1} divider={{ x: (gF('Normoxia')! + gF('Hypoxia')!) / 2, top: 1.4 }} />
      <VText x={102} y={1282} fs={19}>
        <Rich parts={['Myocardial ', { t: '3', sup: true }, 'H', { t: '2', sub: true }, 'O release over']} fs={19} />
      </VText>
      <VText x={125} y={1282} fs={19}>
        <Rich parts={['[', { t: '3', sup: true }, 'H] Palmitate uptake (fold change)']} fs={19} />
      </VText>
      {[0, 2].map((i) => (
        <g key={'fl' + i}>
          <T x={cF[i]} y={1424}>WT</T>
          <T x={cF[i]} y={1443} fs={13.5}>(N = 5)</T>
          <T x={cF[i + 1]} y={1413} italic>Arrdc4</T>
          <T x={cF[i + 1]} y={1434}>KO</T>
          <T x={cF[i + 1]} y={1451} fs={13.5}>(N = 4)</T>
        </g>
      ))}
      {groupUnder(gF, 'Normoxia', 1458.7, 1481)}
      {groupUnder(gF, 'Hypoxia', 1458.7, 1481)}

      {/* ---------- G ---------- */}
      <Letter x={33} y={1532} t="G" />
      <BarPanel y={yG} centers={cG} barW={49} means={gMean} sems={gSem} dots={gDots} fills={[BAR_BLUE, BAR_RED, BAR_BLUE, BAR_RED]} open={[true, false, true, false]} dotR={3.5} dotGap={4} axisL={173} axisR={482} ticks={[0, 200, 400, 600, 800, 1000]} fmt={fmtInt} divider={{ x: (gG('Normoxia')! + gG('Hypoxia')!) / 2, top: 968 }} pBars={[{ a: 2, b: 3, v: 594, coef: '7.6', exp: '4' }]} />
      <VText x={93} y={1602} fs={20}>Myocardial</VText>
      <VText x={115} y={1603} fs={20}>ATP content (μmol/g)</VText>
      {[0, 2].map((i) => (
        <g key={'gl' + i}>
          <T x={cG[i]} y={1744}>WT</T>
          <T x={cG[i]} y={1762} fs={13.5}>(N = 8)</T>
          <T x={cG[i + 1]} y={1732} italic>Arrdc4</T>
          <T x={cG[i + 1]} y={1753}>KO</T>
          <T x={cG[i + 1]} y={1770} fs={13.5}>{i === 0 ? '(N = 6)' : '(N = 8)'}</T>
        </g>
      ))}
      {groupUnder(gG, 'Normoxia', 1775.5, 1797)}
      {groupUnder(gG, 'Hypoxia', 1775.5, 1797)}

      {/* ---------- I ---------- */}
      <Letter x={513} y={465} t="I" />
      <LinePanel
        y={d3.scaleLinear().domain([50, 150]).range([703, 486.3])}
        ticks={[50, 100, 150]}
        axisTop={443}
        series={{ WTn: { v: iWTn, e: iWTnE }, KOn: { v: iKOn, e: iKOnE }, WTh: { v: iWTh, e: iWThE }, KOh: { v: iKOh, e: iKOhE } }}
        annots={iAnn}
        annAngle={-57}
        legendY={431}
        tickY={729}
        titleY={759}
        yLabel="LV dP/dt (max, %)"
        yLabelX={540}
        yLabelY={583}
      />

      {/* ---------- J ---------- */}
      <Letter x={512} y={808} t="J" />
      <LinePanel
        y={d3.scaleLinear().domain([50, 150]).range([1045, 826])}
        ticks={[50, 100, 150]}
        axisTop={802}
        series={{ WTn: { v: jWTn, e: jWTnE }, KOn: { v: jKOn, e: jKOnE }, WTh: { v: jWTh, e: jWThE }, KOh: { v: jKOh, e: jKOhE } }}
        annots={jAnn}
        annAngle={-45}
        legendY={786}
        tickY={1072}
        titleY={1101}
        yLabel="LV dP/dt (min, %)"
        yLabelX={538}
        yLabelY={930}
      />

      {/* ---------- K ---------- */}
      <Letter x={513} y={1140} t="K" />
      <LinePanel
        y={d3.scaleLinear().domain([0, 50]).range([1407.3, 1190])}
        ticks={[0, 10, 20, 30, 40, 50]}
        axisTop={1170}
        series={{ WTn: { v: kWTn, e: kWTnE }, KOn: { v: kKOn, e: kKOnE }, WTh: { v: kWTh, e: kWThE }, KOh: { v: kKOh, e: kKOhE } }}
        annots={kAnn}
        annAngle={-45}
        legendY={1158}
        tickY={1433}
        titleY={1459}
        yLabel="LV end-diastolic pressure (mmHg)"
        yLabelX={548}
        yLabelY={1290}
      />

      {/* ---------- L ---------- */}
      <Letter x={513} y={1493} t="L" />
      <LinePanel
        y={d3.scaleLinear().domain([0, 150]).range([1739.3, 1523.3])}
        ticks={[0, 50, 100, 150]}
        axisTop={1505}
        series={{ WTn: { v: lWTn, e: lWTnE }, KOn: { v: lKOn, e: lKOnE }, WTh: { v: lWTh, e: lWThE }, KOh: { v: lKOh, e: lKOhE } }}
        annots={[]}
        annAngle={-45}
        legendY={1505}
        tickY={1765}
        titleY={1793}
        yLabel="Heart rate (%)"
        yLabelX={545}
        yLabelY={1607}
      />

      {/* ---------- N ---------- */}
      <Letter x={1001} y={464} t="N" />
      <TimePanel
        y={d3.scaleLinear().domain([0, 100]).range([703.7, 535])}
        ticks={[0, 50, 100]}
        axisTop={461}
        wt={nWT}
        ko={nKO}
        wtE={nWTE}
        koE={nKOE}
        annots={nAnn}
        annAngle={-45}
        headY={428}
        legendY={653}
        tickY={726}
        titleY={756}
        yLabel="LV dP/dt (max, %)"
        yLabelX={1008}
        yLabelY={582}
      />

      {/* ---------- O ---------- */}
      <Letter x={1001} y={810} t="O" />
      <TimePanel
        y={d3.scaleLinear().domain([0, 100]).range([1047.5, 880])}
        ticks={[0, 50, 100]}
        axisTop={806}
        wt={oWT}
        ko={oKO}
        wtE={oWTE}
        koE={oKOE}
        annots={oAnn}
        annAngle={-40}
        headY={782}
        legendY={1000.6}
        tickY={1075}
        titleY={1103}
        yLabel="LV dP/dt (min, %)"
        yLabelX={1008}
        yLabelY={928}
      />

      {/* ---------- P ---------- */}
      <Letter x={1001} y={1137} t="P" />
      <TimePanel
        y={d3.scaleLinear().domain([5, 15]).range([1406.2, 1215.4])}
        ticks={[5, 10, 15]}
        axisTop={1157}
        wt={pWT}
        ko={pKO}
        wtE={pWTE}
        koE={pKOE}
        annots={pAnn}
        annAngle={-45}
        hAnnot={[20, 15.73, '9.3', '4']}
        headY={1147}
        legendY={1365}
        tickY={1435}
        titleY={1464}
        yLabel="LV end-diastolic pressure (mmHg)"
        yLabelX={1018}
        yLabelY={1287}
      />

      {/* ---------- Q ---------- */}
      <Letter x={1001} y={1493} t="Q" />
      <TimePanel
        y={d3.scaleLinear().domain([0, 100]).range([1739.3, 1571])}
        ticks={[0, 50, 100]}
        axisTop={1529}
        wt={qWT}
        ko={qKO}
        wtE={qWTE}
        koE={qKOE}
        annots={[]}
        annAngle={-45}
        headY={1525}
        legendY={1694.6}
        tickY={1766}
        titleY={1796}
        yLabel="Heart rate (%)"
        yLabelX={1000}
        yLabelY={1634}
      />
    </svg>
  );
}
